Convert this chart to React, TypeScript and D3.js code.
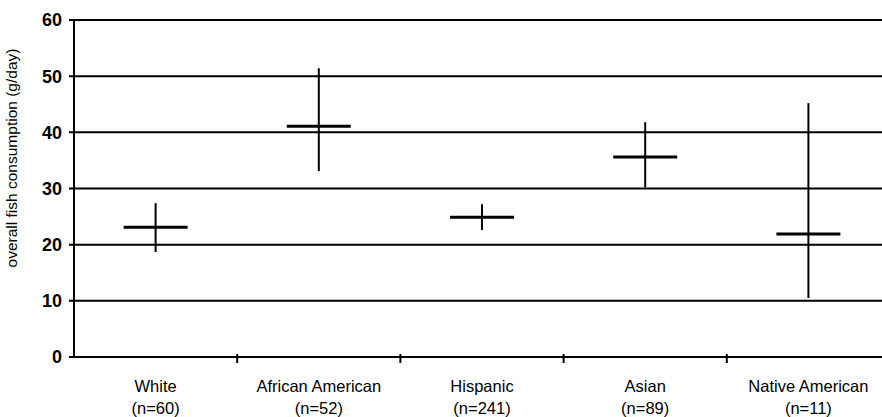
import React, { useRef, useEffect } from "react";
import * as d3 from "d3";

// chart data
const categories = ["White", "African American", "Hispanic", "Asian", "Native American"];
const sampleSizes = ["(n=60)", "(n=52)", "(n=241)", "(n=89)", "(n=11)"];
const means = [23.1, 41.1, 24.9, 35.6, 21.9];
const upper = [27.4, 51.4, 27.2, 41.8, 45.2];
const lower = [18.7, 33.1, 22.6, 30.2, 10.5];
const yTicks = [0, 10, 20, 30, 40, 50, 60];

const App = () => {
  const container = useRef<SVGSVGElement | null>(null);

  const width = 882;
  const height = 417;
  const left = 74;
  const top = 20;
  const bottom = 357;
  const font = "'Liberation Sans', Arial, sans-serif";

  useEffect(() => {
    const svg = d3.select(container.current);
    svg.selectAll("*").remove();

    const xScale = d3.scaleBand().domain(categories).range([left, 890]);
    const yScale = d3.scaleLinear().domain([0, 60]).range([bottom, top]);

    // gridlines + y ticks
    svg
      .append("g")
      .selectAll("line")
      .data(yTicks)
      .enter()
      .append("line")
      .attr("x1", left - 5)
      .attr("x2", width)
      .attr("y1", (d) => yScale(d))
      .attr("y2", (d) => yScale(d))
      .attr("stroke", "#000")
      .attr("stroke-width", 2);

    svg
      .append("g")
      .selectAll("text")
      .data(yTicks)
      .enter()
      .append("text")
      .attr("x", 62)
      .attr("y", (d) => yScale(d))
      .attr("dy", "0.36em")
      .attr("text-anchor", "end")
      .style("font-family", font)
      .style("font-size", "18px")
      .style("font-weight", "bold")
      .text((d) => d);

    // y axis line
    svg
      .append("line")
      .attr("x1", left)
      .attr("x2", left)
      .attr("y1", top)
      .attr("y2", bottom)
      .attr("stroke", "#000")
      .attr("stroke-width", 2);

    // x axis boundary ticks
    svg
      .append("g")
      .selectAll("line")
      .data(categories.slice(1))
      .enter()
      .append("line")
      .attr("x1", (d) => xScale(d)!)
      .attr("x2", (d) => xScale(d)!)
      .attr("y1", bottom - 3)
      .attr("y2", bottom + 6)
      .attr("stroke", "#000")
      .attr("stroke-width", 2);

    // category labels
    const labels = svg
      .append("g")
      .selectAll("text")
      .data(categories)
      .enter()
      .append("text")
      .attr("x", (d) => xScale(d)! + xScale.bandwidth() / 2)
      .attr("text-anchor", "middle")
      .style("font-family", font)
      .style("font-size", "16.5px");
    labels
      .append("tspan")
      .attr("x", (d) => xScale(d)! + xScale.bandwidth() / 2)
      .attr("y", 392)
      .text((d) => d);
    labels
      .append("tspan")
      .attr("x", (d) => xScale(d)! + xScale.bandwidth() / 2)
      .attr("y", 414)
      .text((d, i) => sampleSizes[i]);

    // ranges + means
    const cx = (i: number) => xScale(categories[i])! + xScale.bandwidth() / 2;
    svg
      .append("g")
      .selectAll("line")
      .data(means)
      .enter()
      .append("line")
      .attr("x1", (d, i) => cx(i))
      .attr("x2", (d, i) => cx(i))
      .attr("y1", (d, i) => yScale(upper[i]))
      .attr("y2", (d, i) => yScale(lower[i]))
      .attr("stroke", "#000")
      .attr("stroke-width", 2);
    svg
      .append("g")
      .selectAll("line")
      .data(means)
      .enter()
      .append("line")
      .attr("x1", (d, i) => cx(i) - 32)
      .attr("x2", (d, i) => cx(i) + 32)
      .attr("y1", (d) => yScale(d))
      .attr("y2", (d) => yScale(d))
      .attr("stroke", "#000")
      .attr("stroke-width", 3);

    // y axis title
    svg
      .append("text")
      .attr("transform", `translate(17, 158) rotate(-90)`)
      .attr("text-anchor", "middle")
      .style("font-family", font)
      .style("font-size", "15.5px")
      .text("overall fish consumption (g/day)");
  }, []);

  return (
    <svg
      ref={container}
      width={width}
      height={height}
      style={{ position: "absolute", left: 0, top: 0, background: "#fff" }}
    />
  );
};

export default App;
